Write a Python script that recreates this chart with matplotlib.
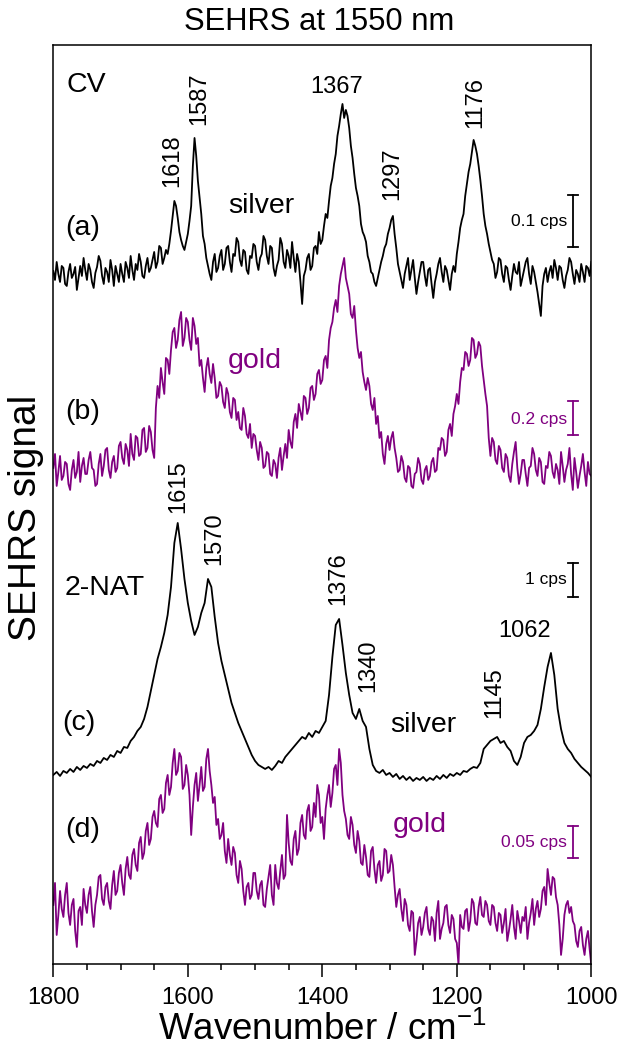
import numpy as np
import matplotlib
matplotlib.use("Agg")
import matplotlib.pyplot as plt

plt.rcParams['font.family'] = ['Liberation Sans', 'DejaVu Sans']

# ---------------- data (arbitrary display units, relative to each trace baseline) ----------
wavenumber_fine = np.linspace(1800, 1000, 321)    # 2.5 cm-1 grid (noisy traces)
wavenumber_coarse = np.linspace(1800, 1000, 161)  # 5 cm-1 grid (2-NAT on silver)

# (a) CV on silver
cv_silver = [
    5, -4, 14, 2, -6, 10, 8, -8, -10, 4, 12, -2, 2, 9, -14, -2, 10, 0, 18, 6,
    -4, 12, 6, -6, -12, 3, 9, 20, 15, 0, -8, 8, 4, -6, 16, 6, -10, 10, 2, -6,
    12, 2, -6, 14, 8, -2, 20, 6, -4, 12, 6, 22, 14, 0, -2, 10, 18, 4, 8, 16,
    24, 8, 14, 30, 28, 12, 18, 26, 22, 32, 45, 60, 75, 70, 58, 44, 36, 30, 26, 34,
    42, 55, 70, 110, 138, 120, 95, 78, 62, 40, 32, 18, 10, 2, -4, 14, 22, 4, 8, 20,
    26, 6, 12, 28, 30, 14, 4, 22, 20, 38, 34, 16, 10, 26, 24, 6, 2, 20, 18, 32,
    30, 14, 6, 18, 22, 40, 36, 20, 12, 30, 28, 8, 0, 10, 16, 38, 32, 14, 8, 26,
    20, 8, 34, 18, 4, 22, 14, -6, -28, 0, 6, 18, 22, 6, 10, 28, 30, 22, 44, 32,
    36, 50, 62, 58, 75, 90, 98, 112, 122, 140, 150, 162, 172, 158, 166, 160, 148, 130, 118, 102,
    88, 80, 70, 52, 44, 40, 34, 20, 14, 4, 2, -6, -10, -2, 6, 14, 20, 28, 32, 42,
    48, 56, 60, 42, 28, 12, 4, -4, -12, 2, 10, 18, -4, 6, 16, -2, -18, -6, 4, 14,
    14, 0, -10, 6, 8, -8, -22, -6, 2, 12, 18, 4, -6, 10, 6, -4, -14, 2, 10, 4,
    22, 34, 48, 56, 62, 80, 92, 104, 112, 124, 136, 130, 122, 110, 96, 80, 62, 50, 42, 32,
    24, 16, 12, -2, 4, 18, 16, 2, -6, 10, 8, -4, -14, 0, 12, 4, 2, 14, -10, -2,
    6, 14, 18, 2, -8, 10, 4, -6, -16, -28, -40, -10, 2, 8, -6, 4, 10, -2, 16, 8,
    -4, 10, 8, -4, -12, 0, 6, 18, 14, 2, -8, 6, 2, -6, 12, 4, -6, 10, 8, 0,
    14]

# (b) CV on gold
cv_gold = [
    10, 24, -8, 6, 22, -2, 2, 16, 14, -6, -12, 8, 18, 0, 6, 26, -4, 12, 20, 4,
    4, 18, 26, 10, 8, -8, -6, 14, 24, 2, 12, 28, 30, 8, 0, 16, 22, 6, 10, 32,
    36, 20, 14, 34, 28, 12, 44, 24, 18, 42, 40, 22, 24, 48, 50, 26, 30, 52, 46, 28,
    20, 70, 92, 80, 110, 96, 84, 120, 118, 104, 128, 146, 150, 130, 138, 158, 166, 132, 140, 160,
    156, 138, 128, 160, 152, 134, 140, 112, 118, 100, 86, 110, 120, 104, 95, 114, 100, 80, 82, 96,
    92, 76, 70, 90, 84, 66, 60, 80, 78, 58, 66, 50, 48, 70, 62, 44, 40, 54, 30, 44,
    42, 28, 18, 36, 30, 10, 12, 26, 24, 4, 2, 18, 14, 0, 20, 30, 8, 22, 34, 20,
    48, 36, 30, 56, 64, 50, 74, 66, 58, 82, 80, 64, 70, 90, 92, 78, 84, 104, 108, 94,
    98, 118, 122, 110, 138, 150, 156, 170, 178, 166, 192, 204, 212, 220, 200, 192, 184, 164, 160, 172,
    148, 130, 120, 126, 106, 96, 88, 100, 92, 74, 68, 80, 54, 62, 40, 46, 24, 14, 34, 42,
    28, 40, 46, 30, 20, 6, 8, 22, 16, 0, -4, 12, 10, -8, -10, 4, 6, 20, 14, -2,
    -6, 8, 12, -2, 2, 16, 20, 6, 8, 30, 28, 40, 38, 22, 26, 48, 54, 42, 64, 72,
    84, 74, 96, 110, 108, 126, 124, 112, 118, 140, 138, 120, 124, 136, 132, 112, 98, 84, 72, 40,
    22, 40, 36, 18, 14, 32, 28, 10, 6, 24, 20, 2, -4, 14, 26, 36, 10, -6, 4, 18,
    18, 4, -8, 10, 12, 30, 24, 8, 2, 20, 16, -4, -6, 12, 10, 26, 22, 6, 0, 14,
    8, -6, 26, 12, -4, 8, 14, 30, 4, -12, 20, 6, -10, 2, 12, 24, 6, -8, 16, 4,
    2]

# (c) 2-NAT on silver
nat_silver = [
    0, 3, -1, 4, 2, 6, 3, 8, 5, 9,
    7, 11, 9, 14, 12, 17, 15, 20, 18, 24,
    22, 28, 27, 34, 38, 44, 48, 56, 68, 84,
    100, 116, 128, 142, 160, 188, 232, 252, 226, 196,
    172, 154, 140, 148, 162, 172, 196, 188, 158, 132,
    114, 100, 86, 72, 62, 52, 44, 36, 28, 20,
    14, 10, 8, 6, 8, 5, 9, 14, 12, 18,
    22, 26, 30, 34, 38, 36, 42, 38, 44, 42,
    48, 54, 80, 118, 150, 156, 130, 102, 80, 62,
    56, 66, 54, 48, 26, 10, 4, 2, 5, 0,
    2, -2, 1, -4, -1, -5, -2, -6, -3, -5,
    -2, -6, -3, -5, -1, -4, 0, -3, 1, -1,
    2, 0, 4, 3, 6, 8, 7, 12, 26, 30,
    34, 36, 38, 32, 34, 28, 24, 14, 10, 18,
    32, 38, 40, 44, 50, 66, 88, 108, 122, 100,
    66, 46, 32, 26, 22, 16, 12, 8, 5, 2,
    -2]

# (d) 2-NAT on gold
nat_gold = [
    30, 52, 0, 20, 44, 26, 18, 40, 52, 22, 10, 30, 36, 4, -12, 24, 28, 10, 46, 30,
    22, 40, 48, 24, 8, 30, 40, 58, 60, 36, 30, 48, 52, 34, 26, 50, 64, 40, 44, 62,
    70, 52, 40, 66, 78, 60, 56, 80, 86, 70, 64, 92, 98, 76, 82, 104, 112, 90, 96, 118,
    124, 112, 108, 136, 140, 122, 126, 152, 160, 140, 148, 172, 186, 160, 164, 182, 178, 146, 150, 170,
    160, 140, 100, 128, 150, 162, 134, 150, 168, 144, 148, 176, 186, 164, 150, 132, 138, 110, 116, 96,
    100, 112, 84, 72, 96, 80, 70, 88, 82, 60, 52, 74, 66, 44, 30, 48, 52, 36, 40, 62,
    62, 44, 36, 50, 54, 30, 28, 46, 58, 70, 40, 30, 70, 52, 46, 64, 80, 56, 60, 120,
    92, 74, 70, 96, 104, 80, 86, 112, 120, 100, 96, 124, 130, 104, 108, 132, 118, 150, 140, 112,
    118, 96, 126, 140, 150, 128, 142, 166, 170, 150, 186, 172, 140, 124, 116, 100, 96, 118, 110, 90,
    82, 104, 94, 72, 70, 90, 78, 60, 58, 84, 88, 66, 52, 70, 74, 54, 60, 86, 84, 62,
    64, 80, 70, 48, 28, 40, 46, 26, 14, 36, 30, 10, 4, 24, 22, -20, -6, 12, 18, 0,
    8, 22, 28, 6, 0, 18, 14, -6, 22, 34, -4, 6, 12, 28, 30, 10, 2, 20, 16, -4,
    -8, -30, 20, 8, 6, 24, 26, 4, 14, 36, 32, 12, 10, 28, 38, 20, 18, 34, 30, 14,
    10, 30, 28, 12, 4, 22, 20, 2, 12, 26, -6, 4, 16, 30, 8, -4, 24, 14, 2, 18,
    14, 28, -4, 12, 22, 36, 10, 26, 34, 18, 26, 44, 48, 30, 66, 52, 40, 58, 56, 38,
    30, 10, -20, -4, 20, 30, 34, 22, 28, 14, 10, -6, -12, 4, 8, -10, -20, -4, 4, -14,
    -30]

scale_bar_text = ['0.1 cps', '0.2 cps', '1 cps', '0.05 cps']

# ---------------- layout / style ----------
BLACK = '#000000'
PURPLE = '#800080'
offsets = [688, 486, 189, 29]
colors = [BLACK, PURPLE, BLACK, PURPLE]
traces = [cv_silver, cv_gold, nat_silver, nat_gold]
grids = [wavenumber_fine, wavenumber_fine, wavenumber_coarse, wavenumber_fine]

fig = plt.figure(figsize=(6.2, 10.48), dpi=100)
ax = fig.add_axes([0.086, 0.0802, 0.8677, 0.8769])

for x, y, off, c in zip(grids, traces, offsets, colors):
    ax.plot(x, np.asarray(y) + off, color=c, lw=1.3, solid_joinstyle='round')

ax.set_xlim(1800, 1000)
ax.set_ylim(0, 919)
ax.set_yticks([])
ax.set_xticks([1800, 1600, 1400, 1200, 1000])
ax.set_xticks(np.arange(1000, 1801, 50), minor=True)
ax.tick_params(axis='x', which='major', direction='out', length=9.5, width=1.1,
               labelsize=17, pad=7, top=False)
ax.tick_params(axis='x', which='minor', direction='out', length=4.5, width=1.1, top=False)
for s in ax.spines.values():
    s.set_linewidth(1.1)

LBL = 20.5
NUM = 17
ax.text(1780, 872, 'CV', fontsize=LBL, ha='left', va='baseline')
ax.text(1783, 729, '(a)', fontsize=LBL, ha='left', va='baseline')
ax.text(1540, 751, 'silver', fontsize=LBL, ha='left', va='baseline')
ax.text(1540, 596, 'gold', fontsize=LBL, ha='left', va='baseline', color=PURPLE)
ax.text(1783, 545, '(b)', fontsize=LBL, ha='left', va='baseline')
ax.text(1783, 369, '2-NAT', fontsize=LBL, ha='left', va='baseline')
ax.text(1786, 234, '(c)', fontsize=LBL, ha='left', va='baseline')
ax.text(1299, 232, 'silver', fontsize=LBL, ha='left', va='baseline')
ax.text(1783, 127, '(d)', fontsize=LBL, ha='left', va='baseline')
ax.text(1295, 132, 'gold', fontsize=LBL, ha='left', va='baseline', color=PURPLE)

rot_peaks = [(1623, 777, '1618'), (1583, 839, '1587'), (1296, 764, '1297'),
             (1173, 836, '1176'), (1614, 451, '1615'), (1560, 399, '1570'),
             (1377, 359, '1376'), (1331, 272, '1340'), (1145, 246, '1145')]
for x, y, t in rot_peaks:
    ax.text(x, y, t, fontsize=NUM, rotation=90, ha='center', va='bottom')
ax.text(1378, 871, '1367', fontsize=NUM, ha='center', va='baseline')
ax.text(1099, 327, '1062', fontsize=NUM, ha='center', va='baseline')

bars = [(769, 717, 742), (563, 529, 544), (401, 367, 384), (138, 106, 121)]
xb = 1027
for (y1, y0, yl), c, t in zip(bars, colors, scale_bar_text):
    ax.plot([xb, xb], [y0, y1], color=c, lw=1.3)
    ax.plot([xb - 7.5, xb + 7.5], [y0, y0], color=c, lw=1.3)
    ax.plot([xb - 7.5, xb + 7.5], [y1, y1], color=c, lw=1.3)
    ax.text(1036, yl, t, fontsize=12.5, ha='right', va='center', color=c)

fig.text(0.514, 0.979, 'SEHRS at 1550 nm', fontsize=22.3, ha='center', va='center')
fig.text(0.042, 0.506, 'SEHRS signal', fontsize=28, rotation=90, ha='center', va='center')
fig.text(0.52, 0.018, 'Wavenumber / cm$^{\\mathregular{-1}}$', fontsize=26.5,
         ha='center', va='center')

fig.savefig('out.png', dpi=100)
